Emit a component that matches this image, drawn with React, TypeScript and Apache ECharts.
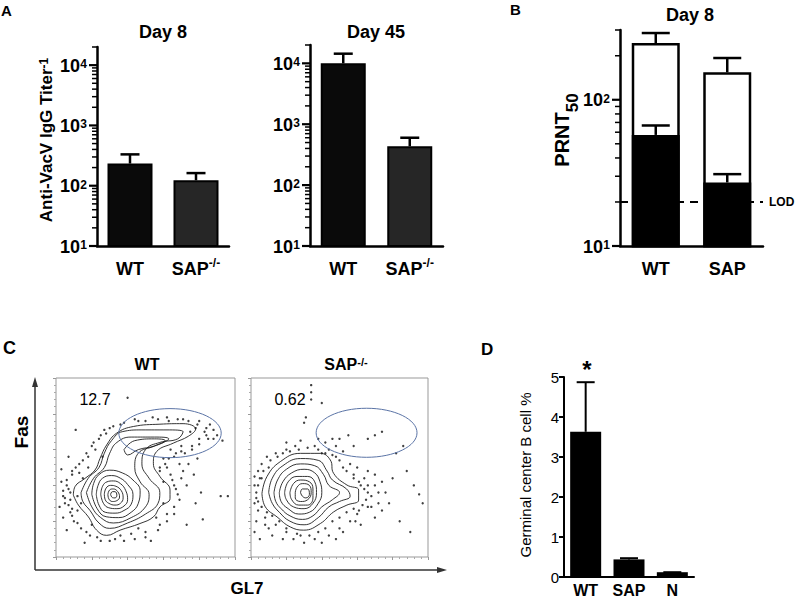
import React, { useEffect, useRef } from 'react';
import * as echarts from 'echarts';

const FONT = '"Liberation Sans", Arial, Helvetica, sans-serif';

// ---------- Panel A ----------
const A8_CATEGORIES = ['WT', 'SAP-/-'];
const A8_MEANS = [233, 123];
const A8_UPPER = [331, 162];
const A45_CATEGORIES = ['WT', 'SAP-/-'];
const A45_MEANS = [10000, 434];
const A45_UPPER = [14400, 600];
const A_LOG_MAJOR = [10, 100, 1000, 10000];
const A_LOG_MINOR = [20, 30, 40, 50, 60, 70, 80, 90, 200, 300, 400, 500, 600, 700, 800, 900, 2000, 3000, 4000, 5000, 6000, 7000, 8000, 9000, 20000];

// ---------- Panel B ----------
const B_CATEGORIES = ['WT', 'SAP'];
const B_TOTAL = [244, 154];
const B_TOTAL_UPPER = [286, 193];
const B_NEUT = [57.5, 27.2];
const B_NEUT_UPPER = [66.7, 31];
const B_LOD = 20;
const B_LOG_MAJOR = [10, 100];
const B_LOG_MINOR = [20, 30, 40, 50, 60, 70, 80, 90, 200, 300];

// ---------- Panel C (flow plots, axis units 0..100) ----------
const WT_GATE_PCT = '12.7';
const SAP_GATE_PCT = '0.62';
const WT_GATE = [63.7, 69.2, 28.6, 13.7];
const SAP_GATE = [65.3, 69.4, 28.5, 13.7];
const WT_CONTOURS = [
  [[9.7, 34.6], [10.6, 39.3], [16.2, 43.9], [21.8, 48.6], [24.6, 55.1], [28.3, 62.6], [33.9, 69.2], [43.2, 72.9], [58.1, 74.2], [71, 74.5], [78, 71.5], [74, 67.5], [65.5, 63.6], [56.2, 58.9], [54.4, 52.3], [58.1, 44.9], [63.7, 37.4], [63.7, 32.7], [58.1, 28], [54.4, 22.4], [46.9, 18.7], [35.8, 15], [28.3, 12.1], [22.7, 15], [18.1, 22.4], [12.5, 29]],
  [[14, 36], [18, 44], [24, 50], [27, 58], [31, 65], [37, 70], [48, 71], [62, 71], [71, 70], [68, 66], [58, 64], [50, 60], [48, 52], [52, 44], [58, 36], [57, 30], [50, 24], [40, 19], [30, 16], [24, 19], [19, 26], [15, 31]],
  [[17, 36], [21, 44], [27, 50], [30, 58], [34, 64], [42, 67], [55, 67], [63, 66], [55, 62], [46, 58], [44, 50], [47, 42], [52, 35], [50, 28], [42, 22], [32, 19], [25, 22], [20, 28]],
  [[38, 60], [44, 65], [55, 66], [61, 65], [55, 62], [46, 60], [40, 57]],
  [[20, 35], [21, 41], [24, 46], [30, 48.5], [37, 47], [43, 43], [47, 37], [46, 30], [42, 25], [35, 22], [28, 22.5], [23, 27]],
  [[22.5, 35], [23.5, 40], [26, 44], [31, 45.5], [36, 44], [40, 40.5], [43, 35], [42, 29.5], [38, 26], [33, 24.5], [27.5, 25], [24, 29]],
  [[25, 35], [26, 39.5], [28.5, 42], [32, 42.5], [36, 41], [39, 37], [40, 32], [38, 28.5], [34, 27], [29.5, 27.5], [26.5, 30]],
  [[27, 35], [28, 38.5], [30.5, 40], [33.5, 39.5], [36.5, 37], [37.5, 33], [36, 30], [33, 29], [29.5, 30], [27.5, 32]],
  [[29, 35], [30, 37.5], [32, 38], [34.5, 36.5], [35.5, 33.5], [34, 31.5], [31.5, 31], [29.5, 32.5]],
  [[30.5, 35], [31.5, 36.5], [33, 36.5], [34, 34.5], [33, 33], [31.5, 33.2]],
];
const SAP_CONTOURS = [
  [[6.2, 35.5], [9, 44.9], [16.6, 53.3], [27.9, 57.9], [39.2, 57.9], [44.8, 54.2], [46.7, 46.7], [54.2, 40.2], [60.8, 37.4], [60.8, 31.8], [54.2, 29], [46.7, 25.2], [39.2, 18.7], [29.8, 15], [22.2, 16.8], [14.7, 22.4], [8.1, 28]],
  [[10, 36], [12, 44], [18, 51], [28, 55], [38, 54], [43, 48], [46, 43], [54, 38], [56, 34], [50, 31], [44, 28], [38, 22], [30, 18], [22, 20], [16, 25], [12, 30]],
  [[13, 36], [15, 43], [20, 49], [28, 52], [36, 51], [41, 46], [44, 40], [50, 36], [46, 32], [40, 28], [35, 23], [29, 21], [22, 23], [17, 27], [14, 31]],
  [[16, 36], [18, 42], [23, 47], [30, 49], [36, 47], [39, 42], [40, 36], [38, 30], [33, 25], [27, 24], [21, 27], [17, 31]],
  [[19, 36], [21, 42], [26, 45], [32, 45], [36, 42], [37, 36], [35, 30], [30, 27], [24, 28], [20, 32]],
  [[22, 36], [24, 41], [28, 43], [33, 42], [35, 38], [35, 33], [32, 29], [27, 29], [23, 32]],
  [[25, 36], [26, 39], [29, 41], [33, 40], [34, 36], [32, 32], [28, 31], [25, 33]],
  [[28, 36], [29, 38], [32, 38], [33, 35], [31, 33], [29, 34]],
];
const WT_DOTS = [[40, 89], [11, 71], [7, 56], [3, 49], [2, 28], [6, 15], [16, 8], [25, 9], [53, 9], [82, 21], [81, 36], [92, 34], [96, 34], [93, 65], [88, 71], [71, 77], [54, 78], [28, 69], [24, 66], [20, 62], [17, 58], [13, 52], [9, 46], [6, 40], [4, 34], [5, 30], [8, 25], [10, 20], [14, 16], [19, 12], [33, 10], [42, 13], [50, 14], [58, 18], [62, 24], [66, 28], [68, 35], [66, 40], [64, 46], [62, 50], [60, 55], [66, 56], [72, 58], [76, 62], [80, 66], [84, 68], [86, 74], [80, 76], [62, 78], [46, 76], [36, 74], [30, 72], [22, 60], [15, 44], [8, 36], [12, 26], [20, 18], [46, 16], [56, 22], [70, 44], [74, 52], [58, 48], [64, 60], [70, 62], [78, 72], [84, 72], [18, 50], [26, 56], [12, 34], [8, 32], [36, 12], [60, 30],
  [5, 33], [7, 38], [6, 43], [9, 48], [11, 50], [4, 37], [7, 29], [9, 27], [3, 42], [13, 47], [15, 54], [18, 56], [21, 64], [25, 68], [27, 71], [32, 73], [38, 75], [44, 77], [50, 76], [57, 77], [63, 76], [68, 77], [74, 76], [79, 74], [83, 70], [85, 66], [80, 63], [76, 60], [70, 59], [67, 58], [63, 55], [61, 52], [58, 50], [60, 42], [65, 43], [67, 38], [69, 32], [66, 24], [62, 20], [57, 15], [50, 11], [44, 10], [38, 9], [30, 9], [23, 11], [17, 14], [12, 19], [9, 23], [4, 22], [14, 30], [71, 48], [73, 40], [77, 46], [79, 55], [69, 52], [75, 70], [88, 66], [90, 68], [73, 18], [78, 30]];
const SAP_DOTS = [[34, 96], [34, 92], [34, 88], [40, 86], [30, 75], [31, 78], [50, 66], [55, 68], [70, 68], [74, 70], [66, 66], [82, 58], [86, 62], [88, 48], [92, 40], [95, 35], [97, 30], [84, 20], [90, 14], [2, 30], [2, 40], [4, 48], [6, 52], [9, 56], [14, 58], [20, 60], [25, 62], [36, 62], [42, 64], [44, 60], [48, 56], [52, 50], [58, 46], [64, 44], [66, 40], [68, 34], [66, 28], [60, 24], [56, 20], [50, 16], [44, 12], [36, 10], [28, 12], [20, 14], [14, 18], [8, 22], [4, 26], [6, 44], [10, 50], [56, 52], [62, 40], [72, 30], [76, 36], [74, 26], [62, 18], [48, 10], [24, 10], [10, 16], [3, 36], [40, 58], [46, 66], [58, 62], [80, 44],
  [3, 33], [4, 40], [5, 44], [2, 45], [7, 48], [11, 54], [15, 56], [18, 58], [22, 59], [27, 60], [32, 61], [38, 60], [42, 58], [46, 57], [50, 54], [54, 48], [58, 44], [61, 42], [64, 38], [66, 36], [65, 32], [63, 29], [61, 26], [58, 27], [54, 25], [50, 22], [46, 20], [42, 16], [38, 14], [33, 12], [26, 13], [20, 16], [16, 20], [12, 23], [9, 25], [6, 28], [4, 31], [8, 18], [3, 20], [70, 40], [72, 36], [74, 42], [78, 30], [70, 22], [68, 28], [59, 20], [52, 14], [40, 8], [30, 8], [18, 10], [12, 12], [5, 10], [2, 14], [60, 50], [66, 48], [70, 46], [52, 59], [48, 62], [38, 66], [28, 65], [20, 64]];

// ---------- Panel D ----------
const D_CATEGORIES = ['WT', 'SAP', 'N'];
const D_MEANS = [3.63, 0.44, 0.12];
const D_UPPER = [4.87, 0.47, 0.12];

function catLabel(v: string) {
  if (v.endsWith('-/-')) return `{c|${v.slice(0, -3)}}{s|-/-}`;
  return `{c|${v}}`;
}
const CAT_RICH = {
  c: { fontSize: 18, fontWeight: 'bold', fontFamily: FONT, color: '#000', lineHeight: 24 },
  s: { fontSize: 12, fontWeight: 'bold', fontFamily: FONT, color: '#000', lineHeight: 10, verticalAlign: 'top' },
};

function catAxis(gi: number, data: string[]) {
  return {
    type: 'category', gridIndex: gi, data,
    axisLine: { onZero: false, lineStyle: { color: '#000', width: 2.5 } },
    axisTick: { alignWithLabel: true, length: 7, lineStyle: { color: '#000', width: 2.5 } },
    axisLabel: { interval: 0, formatter: catLabel, rich: CAT_RICH, margin: 11, fontSize: 18, fontWeight: 'bold', color: '#000' },
  };
}
function logAxis(gi: number, max: number) {
  return {
    type: 'log', logBase: 10, gridIndex: gi, min: 10, max,
    axisLine: { show: true, lineStyle: { color: '#000', width: 2.5 } },
    axisTick: { show: false }, splitLine: { show: false }, minorTick: { show: false },
    axisLabel: { show: false },
  };
}
// ticks (major + minor) and "10^n" labels on a log axis, placed through the axis scale
function tickSeries(gi: number, majors: number[], minors: number[]) {
  const data = [...majors.map((v) => [0, v, 8, 2.2, 1]), ...minors.map((v) => [0, v, 5, 1.5, 0])];
  return {
    type: 'custom', xAxisIndex: gi, yAxisIndex: gi, silent: true, z: 5, data,
    encode: { x: 0, y: 1 },
    renderItem: (params: any, api: any) => {
      const val = api.value(1);
      const p = api.coord([0, val]);
      const bw = api.size([1, 0], [0, val])[0];
      const x = p[0] - bw / 2;
      const children: any[] = [
        {
          type: 'line',
          shape: { x1: x - api.value(2), y1: p[1], x2: x, y2: p[1] },
          style: { stroke: '#000', lineWidth: api.value(3) },
        },
      ];
      if (api.value(4) === 1) {
        const e = String(Math.round(Math.log10(val)));
        children.push({
          type: 'text', x: x - 10, y: p[1] - 7,
          style: { text: e, font: `bold 12px ${FONT}`, fill: '#000', align: 'right', verticalAlign: 'top' },
        });
        children.push({
          type: 'text', x: x - 17, y: p[1] + 0.5,
          style: { text: '10', font: `bold 18px ${FONT}`, fill: '#000', align: 'right', verticalAlign: 'middle' },
        });
      }
      return { type: 'group', children };
    },
  };
}
function errSeries(gi: number, means: number[], uppers: number[], cap: number, lw: number) {
  return {
    type: 'custom', xAxisIndex: gi, yAxisIndex: gi, silent: true, z: 4,
    data: means.map((m, i) => [i, m, uppers[i]]),
    encode: { x: 0, y: 1 },
    renderItem: (params: any, api: any) => {
      const i = api.value(0);
      const b = api.coord([i, api.value(1)]);
      const t = api.coord([i, api.value(2)]);
      return {
        type: 'group',
        children: [
          { type: 'line', shape: { x1: b[0], y1: b[1], x2: t[0], y2: t[1] }, style: { stroke: '#000', lineWidth: lw } },
          { type: 'line', shape: { x1: t[0] - cap / 2, y1: t[1], x2: t[0] + cap / 2, y2: t[1] }, style: { stroke: '#000', lineWidth: lw } },
        ],
      };
    },
  };
}
function flowAxes(gi: number) {
  const common = {
    type: 'value', gridIndex: gi, min: 0, max: 100, interval: 20,
    axisLine: { show: false },
    axisTick: { show: true, length: 3, lineStyle: { color: '#999', width: 1 } },
    minorTick: { show: true, splitNumber: 5, length: 2, lineStyle: { color: '#aaa', width: 1 } },
    axisLabel: { show: false }, splitLine: { show: false },
  };
  return { x: { ...common }, y: { ...common } };
}
function flowSeries(gi: number, contours: number[][][], dots: number[][], gate: number[]) {
  const out: any[] = contours.map((c) => ({
    type: 'line', xAxisIndex: gi, yAxisIndex: gi, silent: true, smooth: 0.45, symbol: 'none',
    lineStyle: { color: '#1e1e1e', width: 0.9 },
    data: [...c, c[0]],
  }));
  out.push({
    type: 'scatter', xAxisIndex: gi, yAxisIndex: gi, silent: true, symbolSize: 2.4,
    itemStyle: { color: '#111' }, data: dots,
  });
  out.push({
    type: 'custom', xAxisIndex: gi, yAxisIndex: gi, silent: true, z: 6,
    data: [gate], encode: { x: 0, y: 1 },
    renderItem: (params: any, api: any) => {
      const c = api.coord([api.value(0), api.value(1)]);
      const s = api.size([api.value(2), api.value(3)], [api.value(0), api.value(1)]);
      return {
        type: 'ellipse',
        shape: { cx: c[0], cy: c[1], rx: s[0], ry: s[1] },
        style: { fill: 'none', stroke: '#5b74a6', lineWidth: 1 },
      };
    },
  });
  return out;
}

function txt(text: string, x: number, y: number, size: number, opts: any = {}) {
  return {
    type: 'text', x, y, rotation: opts.rotation || 0, silent: true,
    style: {
      text, fontSize: size, fontWeight: opts.weight || 'bold', fontFamily: FONT, fill: '#000',
      align: opts.align || 'center', verticalAlign: 'middle', rich: opts.rich,
    },
  };
}

export default function App() {
  const ref = useRef<HTMLDivElement>(null);
  useEffect(() => {
    if (!ref.current) return;
    const chart = echarts.init(ref.current, null, { renderer: 'svg' });
    const wtAx = flowAxes(4);
    const sapAx = flowAxes(5);
    const option: any = {
      animation: false,
      backgroundColor: '#fff',
      textStyle: { fontFamily: FONT },
      grid: [
        { left: 97, top: 47, width: 132, height: 199 },
        { left: 310, top: 45, width: 133, height: 201 },
        { left: 620, top: 30, width: 143, height: 216 },
        { left: 564, top: 377, width: 130, height: 200 },
        { left: 56, top: 378, width: 179, height: 179, show: true, borderColor: '#999', borderWidth: 1 },
        { left: 251, top: 378, width: 177, height: 179, show: true, borderColor: '#999', borderWidth: 1 },
      ],
      xAxis: [
        catAxis(0, A8_CATEGORIES),
        catAxis(1, A45_CATEGORIES),
        catAxis(2, B_CATEGORIES),
        {
          type: 'category', gridIndex: 3, data: D_CATEGORIES,
          axisLine: { lineStyle: { color: '#000', width: 2 } },
          axisTick: { alignWithLabel: true, length: 5, lineStyle: { color: '#000', width: 2 } },
          axisLabel: { interval: 0, color: '#000', fontSize: 16, fontWeight: 'bold', fontFamily: FONT, margin: 5 },
        },
        wtAx.x,
        sapAx.x,
      ],
      yAxis: [
        logAxis(0, 20000),
        logAxis(1, 20000),
        logAxis(2, 300),
        {
          type: 'value', gridIndex: 3, min: 0, max: 5, interval: 1,
          axisLine: { show: true, lineStyle: { color: '#000', width: 2 } },
          axisTick: { show: true, length: 5, lineStyle: { color: '#000', width: 2 } },
          splitLine: { show: false },
          axisLabel: { color: '#000', fontSize: 15, fontFamily: FONT, margin: 5 },
        },
        wtAx.y,
        sapAx.y,
      ],
      series: [
        {
          type: 'bar', xAxisIndex: 0, yAxisIndex: 0, barWidth: 45,
          data: A8_MEANS.map((v, i) => ({ value: v, itemStyle: { color: i === 0 ? '#0a0a0a' : '#262626' } })),
          itemStyle: { borderColor: '#000', borderWidth: 2 },
        },
        errSeries(0, A8_MEANS, A8_UPPER, 19, 2.5),
        tickSeries(0, A_LOG_MAJOR, A_LOG_MINOR),
        {
          type: 'bar', xAxisIndex: 1, yAxisIndex: 1, barWidth: 45,
          data: A45_MEANS.map((v, i) => ({ value: v, itemStyle: { color: i === 0 ? '#0a0a0a' : '#262626' } })),
          itemStyle: { borderColor: '#000', borderWidth: 2 },
        },
        errSeries(1, A45_MEANS, A45_UPPER, 19, 2.5),
        tickSeries(1, A_LOG_MAJOR, A_LOG_MINOR),
        {
          type: 'bar', xAxisIndex: 2, yAxisIndex: 2, barWidth: 48, barGap: '-100%',
          data: B_TOTAL, itemStyle: { color: '#fff', borderColor: '#000', borderWidth: 2.5 },
        },
        {
          type: 'bar', xAxisIndex: 2, yAxisIndex: 2, barWidth: 48, barGap: '-100%',
          data: B_NEUT, itemStyle: { color: '#000', borderColor: '#000', borderWidth: 2.5 },
          markLine: {
            silent: true, symbol: 'none',
            lineStyle: { type: [8, 6], color: '#000', width: 2 },
            label: { show: true, position: 'end', formatter: 'LOD', color: '#000', fontSize: 12, fontWeight: 'bold', fontFamily: FONT, distance: 6 },
            data: [{ yAxis: B_LOD }],
          },
        },
        errSeries(2, B_TOTAL, B_TOTAL_UPPER, 28, 2.5),
        errSeries(2, B_NEUT, B_NEUT_UPPER, 28, 2.5),
        tickSeries(2, B_LOG_MAJOR, B_LOG_MINOR),
        {
          type: 'bar', xAxisIndex: 3, yAxisIndex: 3, barWidth: 31,
          data: D_MEANS, itemStyle: { color: '#000' },
        },
        errSeries(3, D_MEANS, D_UPPER, 18, 2),
        ...flowSeries(4, WT_CONTOURS, WT_DOTS, WT_GATE),
        ...flowSeries(5, SAP_CONTOURS, SAP_DOTS, SAP_GATE),
      ],
      graphic: [
        txt('A', 1, 10, 15, { align: 'left' }),
        txt('B', 510, 9, 15, { align: 'left' }),
        txt('C', 3, 348, 18, { align: 'left' }),
        txt('D', 481, 349, 17, { align: 'left' }),
        txt('Day 8', 163, 32, 18),
        txt('Day 45', 376, 32, 18),
        txt('Day 8', 690, 15, 18),
        txt('Anti-VacV IgG Titer{s|-1}', 46, 140, 17, {
          rotation: Math.PI / 2,
          rich: { s: { fontSize: 12, fontWeight: 'bold', fontFamily: FONT, fill: '#000', lineHeight: 10, verticalAlign: 'top' } },
        }),
        txt('{m|PRNT}{s|50}', 562, 130, 20, {
          rotation: Math.PI / 2,
          rich: {
            m: { fontSize: 20, fontWeight: 'bold', fontFamily: FONT, fill: '#000', lineHeight: 20, verticalAlign: 'top' },
            s: { fontSize: 17, fontWeight: 'bold', fontFamily: FONT, fill: '#000', lineHeight: 17, verticalAlign: 'top', padding: [12, 0, 0, 0] },
          },
        }),
        txt('WT', 147, 364, 16),
        txt('SAP{s|-/-}', 346, 364, 16, {
          rich: { s: { fontSize: 11, fontWeight: 'bold', fontFamily: FONT, fill: '#000', lineHeight: 9, verticalAlign: 'top' } },
        }),
        txt(WT_GATE_PCT, 95, 399, 16, { weight: 'normal' }),
        txt(SAP_GATE_PCT, 290, 399, 16, { weight: 'normal' }),
        txt('Fas', 21, 432, 19, { rotation: Math.PI / 2 }),
        txt('GL7', 247, 588, 17),
        txt('Germinal center B cell %', 525, 475, 15, { weight: 'normal', rotation: Math.PI / 2 }),
        txt('*', 587, 369, 24),
        { type: 'line', silent: true, shape: { x1: 35, y1: 384, x2: 35, y2: 570 }, style: { stroke: '#333', lineWidth: 1.5 } },
        { type: 'polygon', silent: true, shape: { points: [[35, 377], [32, 387], [38, 387]] }, style: { fill: '#333' } },
        { type: 'line', silent: true, shape: { x1: 35, y1: 570, x2: 440, y2: 570 }, style: { stroke: '#333', lineWidth: 1.5 } },
        { type: 'polygon', silent: true, shape: { points: [[447, 570], [437, 567], [437, 573]] }, style: { fill: '#333' } },
      ],
    };
    chart.setOption(option);
    return () => chart.dispose();
  }, []);
  return <div ref={ref} style={{ position: 'absolute', left: 0, top: 0, width: 800, height: 600 }} />;
}
